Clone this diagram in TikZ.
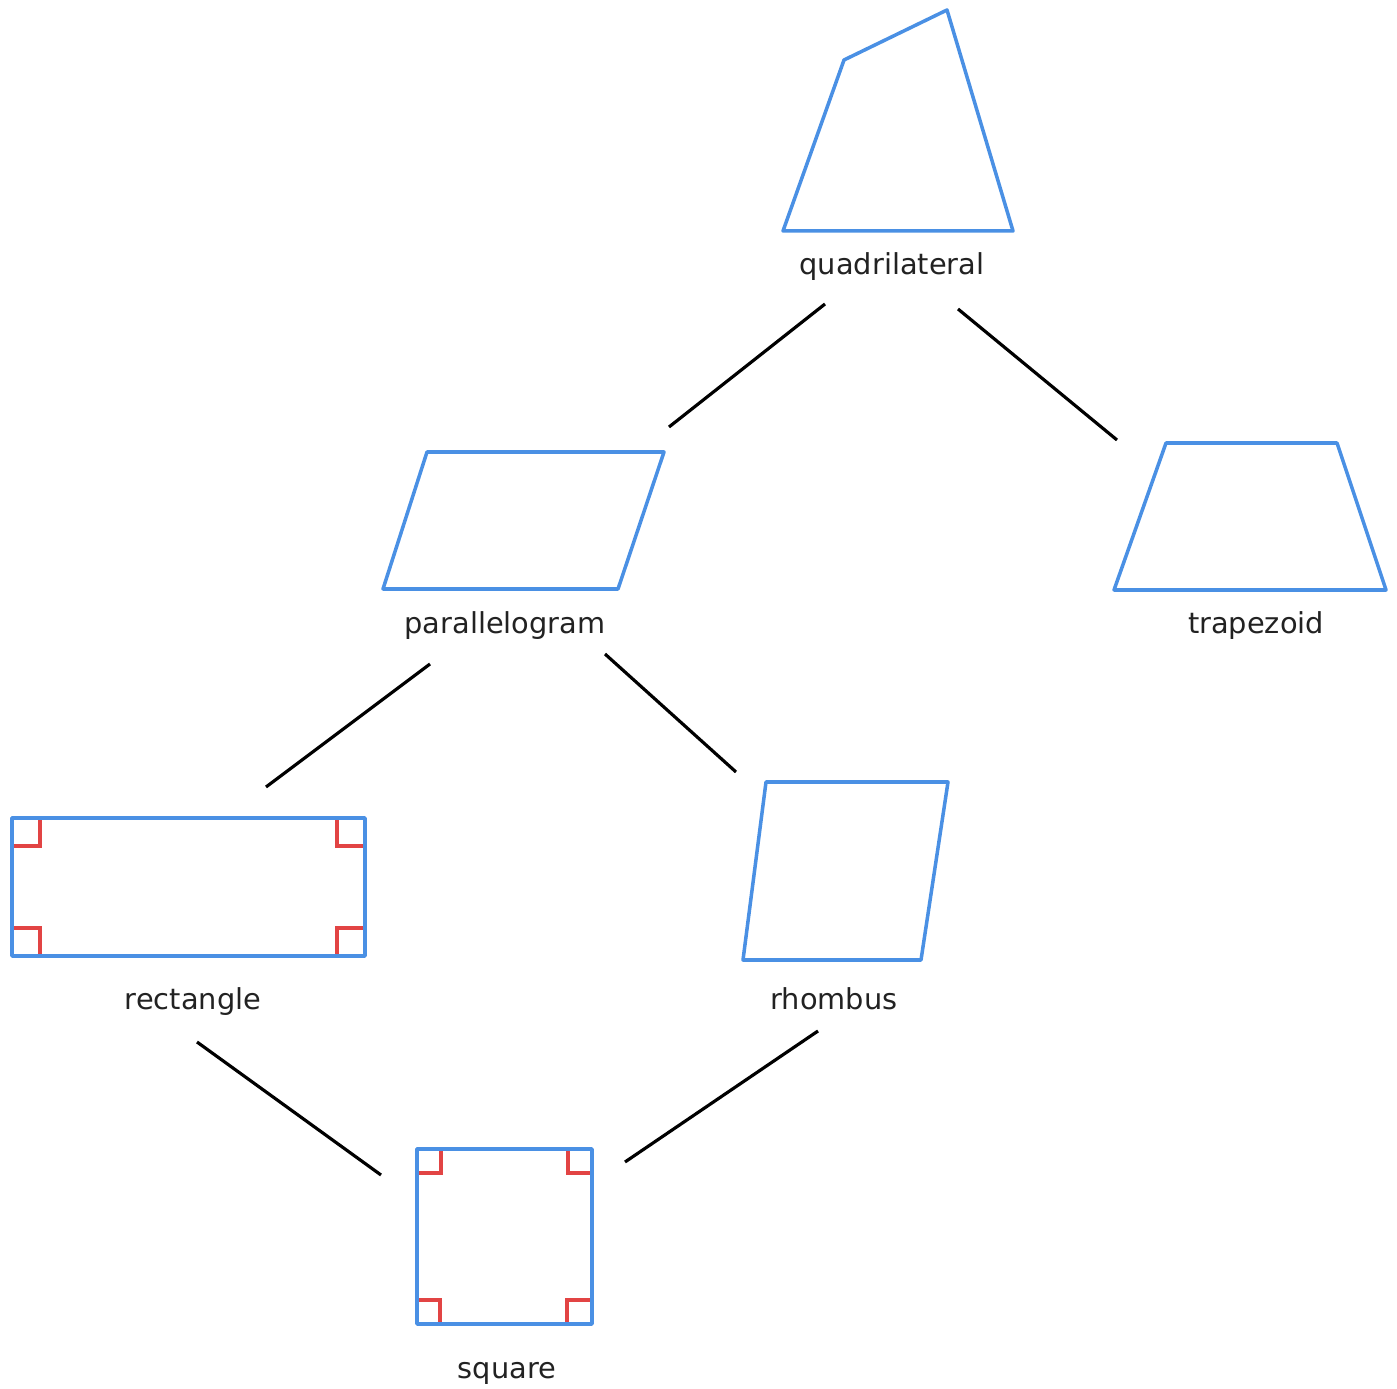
\documentclass[tikz,border=0pt]{standalone}
\usepackage{fontspec}
\setmainfont{DejaVu Sans}
\definecolor{shapeblue}{RGB}{74,144,228}
\definecolor{markred}{RGB}{226,68,68}
\definecolor{labelgray}{RGB}{34,34,34}
\begin{document}
\begin{tikzpicture}[x=0.01cm, y=-0.01cm,
    outline/.style={draw=shapeblue, line width=1pt, line join=round},
    anglemark/.style={draw=markred, line width=0.9pt},
    lbl/.style={text=labelgray, font=\fontsize{8.2}{10}\selectfont, inner sep=0pt},
    link/.style={draw=black, line width=0.9pt}]

    \useasboundingbox (0,0) rectangle (1397,1389);

    % shapes
    \draw[outline] (783,231) -- (844,60) -- (947,10) -- (1013,231) -- cycle;
    \draw[outline] (383,589) -- (427,452) -- (664,452) -- (618,589) -- cycle;
    \draw[outline] (1114,590) -- (1166,443) -- (1337,443) -- (1386,590) -- cycle;
    \draw[outline] (743,960) -- (766,782) -- (948,782) -- (921,960) -- cycle;

    % rectangle with right angles
    \draw[anglemark] (12,846) -- (40,846) -- (40,818);
    \draw[anglemark] (337,818) -- (337,846) -- (365,846);
    \draw[anglemark] (12,928) -- (40,928) -- (40,956);
    \draw[anglemark] (365,928) -- (337,928) -- (337,956);
    \draw[outline] (12,818) rectangle (365,956);

    % square with right angles
    \draw[anglemark] (417,1173) -- (441,1173) -- (441,1149);
    \draw[anglemark] (568,1149) -- (568,1173) -- (592,1173);
    \draw[anglemark] (417,1300) -- (440,1300) -- (440,1324);
    \draw[anglemark] (592,1300) -- (567,1300) -- (567,1324);
    \draw[outline] (417,1149) rectangle (592,1324);

    % labels
    \node[lbl] (quad) at (892,267) {quadrilateral};
    \node[lbl] (para) at (505,626) {parallelogram};
    \node[lbl] (trap) at (1256,626) {trapezoid};
    \node[lbl] (rect) at (193,1002) {rectangle};
    \node[lbl] (rhom) at (834,999) {rhombus};
    \node[lbl] (squa) at (507,1373) {square};

    % links
    \coordinate (quad-l) at (825,304);
    \coordinate (quad-r) at (958,309);
    \coordinate (para-t) at (669,427);
    \coordinate (trap-t) at (1117,440);
    \coordinate (para-l) at (430,664);
    \coordinate (para-r) at (605,654);
    \coordinate (rect-t) at (266,787);
    \coordinate (rhom-t) at (736,772);
    \coordinate (rect-b) at (197,1042);
    \coordinate (rhom-b) at (818,1031);
    \coordinate (squa-l) at (381,1175);
    \coordinate (squa-r) at (625,1162);

    \draw[link] (quad-l) -- (para-t);
    \draw[link] (quad-r) -- (trap-t);
    \draw[link] (para-l) -- (rect-t);
    \draw[link] (para-r) -- (rhom-t);
    \draw[link] (rect-b) -- (squa-l);
    \draw[link] (rhom-b) -- (squa-r);
\end{tikzpicture}
\end{document}
